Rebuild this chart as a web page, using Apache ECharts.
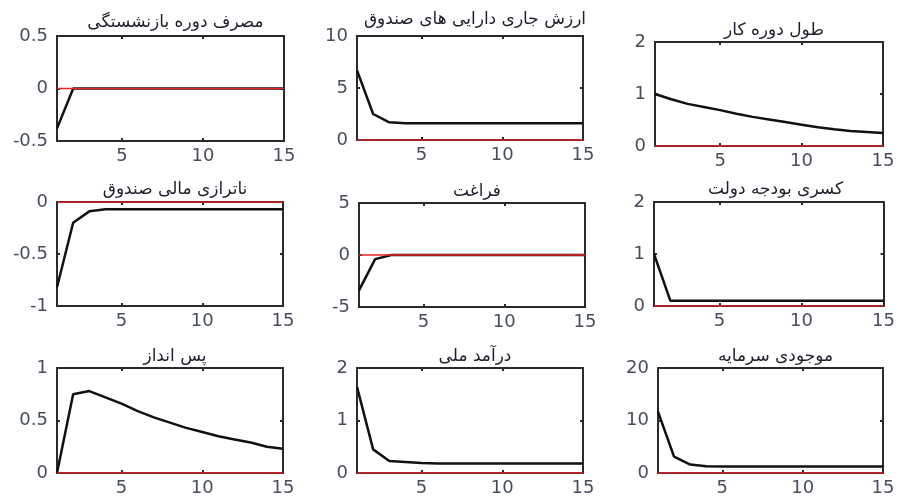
<!DOCTYPE html>
<html>
<head>
<meta charset="utf-8">
<script src="https://cdn.jsdelivr.net/npm/echarts@6/dist/echarts.min.js"></script>
<style>
  html, body { margin: 0; padding: 0; background: #fff; }
  #chart { width: 898px; height: 497px; }
</style>
</head>
<body>
<div id="chart"></div>
<script>
// periods after the shock
const periods = [1, 2, 3, 4, 5, 6, 7, 8, 9, 10, 11, 12, 13, 14, 15];
const xTicks = [5, 10, 15];

const titles = [
  "مصرف دوره بازنشستگی",
  "ارزش جاری دارایی های صندوق",
  "طول دوره کار",
  "ناترازی مالی صندوق",
  "فراغت",
  "کسری بودجه دولت",
  "پس انداز",
  "درآمد ملی",
  "موجودی سرمایه"
];

// impulse responses
const retireConsumption = [-0.38, 0, 0, 0, 0, 0, 0, 0, 0, 0, 0, 0, 0, 0, 0];
const fundAssets = [6.7, 2.5, 1.7, 1.6, 1.6, 1.6, 1.6, 1.6, 1.6, 1.6, 1.6, 1.6, 1.6, 1.6, 1.6];
const workLength = [1.0, 0.9, 0.81, 0.75, 0.69, 0.62, 0.56, 0.51, 0.46, 0.41, 0.36, 0.32, 0.29, 0.27, 0.25];
const fundImbalance = [-0.82, -0.2, -0.09, -0.07, -0.07, -0.07, -0.07, -0.07, -0.07, -0.07, -0.07, -0.07, -0.07, -0.07, -0.07];
const leisure = [-3.4, -0.4, 0, 0, 0, 0, 0, 0, 0, 0, 0, 0, 0, 0, 0];
const budgetDeficit = [1.0, 0.1, 0.1, 0.1, 0.1, 0.1, 0.1, 0.1, 0.1, 0.1, 0.1, 0.1, 0.1, 0.1, 0.1];
const saving = [0, 0.75, 0.78, 0.72, 0.66, 0.59, 0.53, 0.48, 0.43, 0.39, 0.35, 0.32, 0.29, 0.25, 0.23];
const nationalIncome = [1.64, 0.45, 0.23, 0.21, 0.19, 0.18, 0.18, 0.18, 0.18, 0.18, 0.18, 0.18, 0.18, 0.18, 0.18];
const capitalStock = [11.7, 3.1, 1.6, 1.3, 1.25, 1.25, 1.25, 1.25, 1.25, 1.25, 1.25, 1.25, 1.25, 1.25, 1.25];

// y ranges: [min, max, interval]
const yRanges = [
  [-0.5, 0.5, 0.5], [0, 10, 5], [0, 2, 1],
  [-1, 0, 0.5], [-5, 5, 5], [0, 2, 1],
  [0, 1, 0.5], [0, 2, 1], [0, 20, 10]
];

const seriesValues = [
  retireConsumption, fundAssets, workLength,
  fundImbalance, leisure, budgetDeficit,
  saving, nationalIncome, capitalStock
];

// layout of each small plot
const boxes = [
  { left: 57, top: 36, width: 227, height: 105, titleY: 9 },
  { left: 357, top: 36, width: 226, height: 104, titleY: 6 },
  { left: 655, top: 42, width: 228, height: 104, titleY: 17 },
  { left: 57, top: 202, width: 226, height: 104, titleY: 176 },
  { left: 359, top: 203, width: 226, height: 104, titleY: 178 },
  { left: 654, top: 202, width: 233, height: 104, titleY: 176 },
  { left: 57, top: 368, width: 226, height: 105, titleY: 343 },
  { left: 357, top: 368, width: 226, height: 105, titleY: 343 },
  { left: 658, top: 368, width: 225, height: 105, titleY: 343 }
];

const chart = echarts.init(document.getElementById("chart"));

const frameColor = "#2a2a2a";
const labelColor = "#464d5b";

const grid = [], xAxis = [], yAxis = [], series = [], title = [];

boxes.forEach((b, i) => {
  grid.push({ left: b.left, top: b.top, width: b.width, height: b.height, containLabel: false });

  title.push({
    text: titles[i],
    left: b.left + b.width / 2,
    top: b.titleY,
    textAlign: "center",
    textStyle: { fontFamily: "DejaVu Sans", fontSize: 17, fontWeight: "normal", color: "#1f1f2c" }
  });

  const xBase = {
    type: "value", gridIndex: i, min: 1, max: 15,
    axisLine: { show: true, onZero: false, lineStyle: { color: frameColor, width: 2 } },
    axisTick: { show: true, inside: true, length: 3, customValues: xTicks, lineStyle: { color: frameColor, width: 2 } },
    splitLine: { show: false }
  };
  xAxis.push(Object.assign({}, xBase, {
    position: "bottom",
    axisLabel: { show: true, customValues: xTicks, margin: 6, fontFamily: "DejaVu Sans", fontSize: 18, color: labelColor }
  }));
  xAxis.push(Object.assign({}, xBase, { position: "top", axisLabel: { show: false } }));

  const [ymin, ymax, step] = yRanges[i];
  const yBase = {
    type: "value", gridIndex: i, min: ymin, max: ymax, interval: step,
    axisLine: { show: true, onZero: false, lineStyle: { color: frameColor, width: 2 } },
    axisTick: { show: true, inside: true, length: 3, lineStyle: { color: frameColor, width: 2 } },
    splitLine: { show: false }
  };
  yAxis.push(Object.assign({}, yBase, {
    position: "left",
    axisLabel: { show: true, margin: 9, fontFamily: "DejaVu Sans", fontSize: 18, color: labelColor }
  }));
  yAxis.push(Object.assign({}, yBase, { position: "right", axisLabel: { show: false } }));

  series.push({
    type: "line",
    xAxisIndex: i * 2,
    yAxisIndex: i * 2,
    data: periods.map((p, k) => [p, seriesValues[i][k]]),
    showSymbol: false,
    symbol: "none",
    lineStyle: { color: "#111", width: 2.5 },
    z: 2
  });
  // zero reference line
  series.push({
    type: "line",
    xAxisIndex: i * 2,
    yAxisIndex: i * 2,
    data: periods.map(p => [p, 0]),
    symbol: "none",
    lineStyle: { color: "#e8232b", width: 1.5 },
    z: 3
  });
});

chart.setOption({
  animation: false,
  backgroundColor: "#fff",
  title, grid, xAxis, yAxis, series
});
</script>
</body>
</html>
